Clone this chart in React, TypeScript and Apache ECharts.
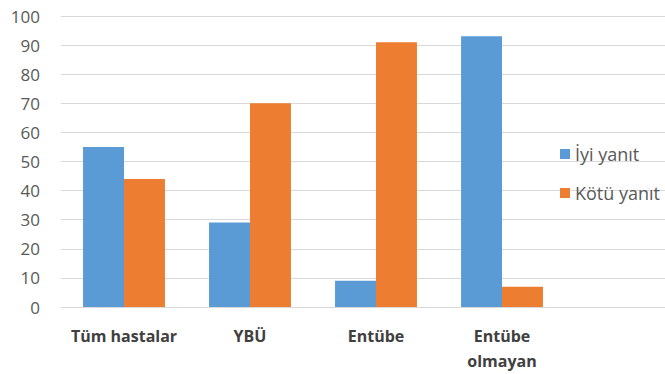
import React, { useEffect, useRef } from "react";
import * as echarts from "echarts";

const categories = ["Tüm hastalar", "YBÜ", "Entübe", "Entübe\nolmayan"];
const iyiYanit = [55, 29, 9, 93];
const kotuYanit = [44, 70, 91, 7];
const seriesNames = ["İyi yanıt", "Kötü yanıt"];

export default function App() {
  const ref = useRef<HTMLDivElement>(null);
  useEffect(() => {
    if (!ref.current) return;
    const chart = echarts.init(ref.current, undefined, { renderer: "svg" });
    const font = "'Open Sans', 'Noto Sans', sans-serif";
    chart.setOption({
      animation: false,
      backgroundColor: "#ffffff",
      legend: {
        orient: "vertical",
        left: 555,
        top: 140,
        itemWidth: 10,
        itemHeight: 10,
        itemGap: 21,
        icon: "rect",
        textStyle: { color: "#595959", fontSize: 18, fontFamily: font },
        data: seriesNames,
      },
      grid: [
        { left: 61, top: 16, width: 504, bottom: 67, containLabel: false },
        { left: 61, top: 16, right: 0, bottom: 67, containLabel: false },
      ],
      xAxis: [
        {
          type: "category",
          gridIndex: 0,
          data: categories,
          axisLine: { lineStyle: { color: "#d9d9d9" } },
          axisTick: { show: false },
          axisLabel: {
            color: "#404040",
            fontSize: 16,
            fontWeight: "bold",
            fontFamily: font,
            margin: 16,
            lineHeight: 25,
            interval: 0,
          },
        },
        {
          type: "value",
          gridIndex: 1,
          show: false,
          min: 0,
          max: 1,
        },
      ],
      yAxis: [
        {
          type: "value",
          gridIndex: 0,
          min: 0,
          max: 100,
          interval: 10,
          axisLine: { show: false },
          axisTick: { show: false },
          splitLine: { show: false },
          axisLabel: {
            color: "#595959",
            fontSize: 17,
            fontFamily: font,
            margin: 21,
          },
        },
        {
          type: "value",
          gridIndex: 1,
          min: 0,
          max: 100,
          interval: 10,
          axisLine: { show: false },
          axisTick: { show: false },
          axisLabel: { show: false },
          splitLine: { show: true, lineStyle: { color: "#d9d9d9", width: 1 } },
        },
      ],
      series: [
        {
          name: seriesNames[0],
          type: "bar",
          xAxisIndex: 0,
          yAxisIndex: 0,
          data: iyiYanit,
          itemStyle: { color: "#5B9BD5" },
          barGap: "0%",
          barCategoryGap: "35%",
        },
        {
          name: seriesNames[1],
          type: "bar",
          xAxisIndex: 0,
          yAxisIndex: 0,
          data: kotuYanit,
          itemStyle: { color: "#ED7D31" },
          barGap: "0%",
          barCategoryGap: "35%",
        },
      ],
    });
    return () => chart.dispose();
  }, []);
  return <div ref={ref} style={{ width: 665, height: 374, position: "absolute", left: 0, top: 0 }} />;
}
